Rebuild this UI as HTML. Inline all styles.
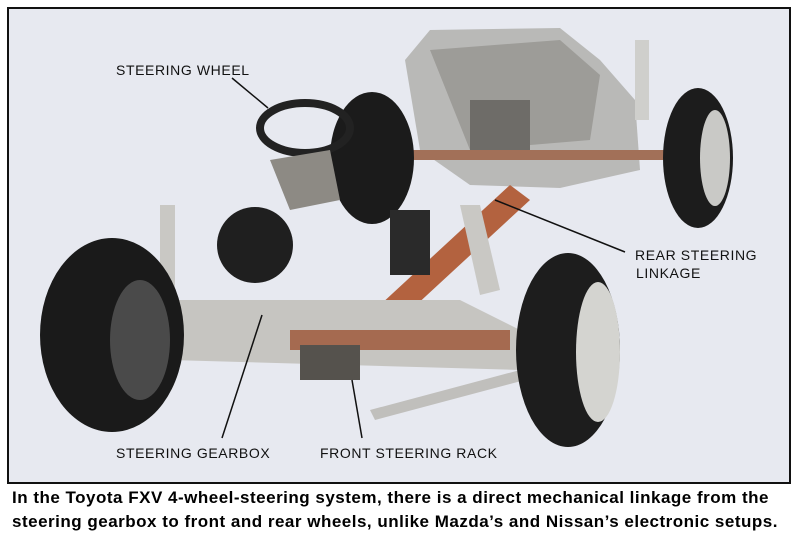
<!DOCTYPE html>
<html><head><style>
html,body{margin:0;padding:0;background:#fff;width:800px;height:543px;overflow:hidden}
.cap{position:absolute;left:12px;font-family:"Liberation Sans",sans-serif;font-weight:bold;font-size:17px;letter-spacing:0.5px;color:#000;white-space:nowrap}
.lbl{font-family:"Liberation Sans",sans-serif;font-size:14px;letter-spacing:0.6px;fill:#111}
</style></head><body>
<svg width="800" height="543" style="position:absolute;left:0;top:0">
<rect x="8" y="8" width="782" height="475" fill="#e7e9f0" stroke="#111" stroke-width="2"/>
<path d="M405 60 L430 30 L560 28 L600 60 L635 100 L640 170 L560 188 L470 185 L420 150 Z" fill="#b9b9b7"/>
<path d="M430 50 L560 40 L600 75 L590 140 L470 150 Z" fill="#9d9c98"/>
<rect x="470" y="100" width="60" height="60" fill="#6e6c68"/>
<rect x="380" y="150" width="300" height="10" fill="#a27058"/>
<rect x="635" y="40" width="14" height="80" fill="#cfcfcc"/>
<ellipse cx="372" cy="158" rx="42" ry="66" fill="#1b1b1b"/>
<ellipse cx="698" cy="158" rx="35" ry="70" fill="#1c1c1c"/>
<ellipse cx="715" cy="158" rx="15" ry="48" fill="#c9c9c6"/>
<ellipse cx="305" cy="128" rx="45" ry="25" fill="none" stroke="#222" stroke-width="8"/>
<path d="M270 160 L330 150 L340 200 L290 210 Z" fill="#8d8a84"/>
<path d="M380 305 L510 185 L530 200 L400 320 Z" fill="#b3623f"/>
<ellipse cx="255" cy="245" rx="38" ry="38" fill="#1f1f1f"/>
<rect x="390" y="210" width="40" height="65" fill="#2a2a2a"/>
<path d="M170 300 L460 300 L520 330 L520 370 L170 360 Z" fill="#c6c5c1"/>
<rect x="290" y="330" width="220" height="20" fill="#a56a50"/>
<rect x="300" y="345" width="60" height="35" fill="#55524d"/>
<path d="M370 410 L520 370 L525 380 L375 420 Z" fill="#c0bfbc"/>
<path d="M160 205 L175 205 L175 300 L160 300 Z" fill="#c9c8c4"/>
<path d="M460 205 L480 205 L500 290 L480 295 Z" fill="#c9c8c4"/>
<ellipse cx="112" cy="335" rx="72" ry="97" fill="#1a1a1a"/>
<ellipse cx="140" cy="340" rx="30" ry="60" fill="#4a4a4a"/>
<ellipse cx="568" cy="350" rx="52" ry="97" fill="#1d1d1d"/>
<ellipse cx="598" cy="352" rx="22" ry="70" fill="#d4d4d0"/>
<g stroke="#111" stroke-width="1.5" fill="none">
<line x1="232" y1="78" x2="268" y2="108"/>
<line x1="495" y1="200" x2="625" y2="252"/>
<line x1="262" y1="315" x2="222" y2="438"/>
<line x1="352" y1="380" x2="362" y2="438"/>
</g>
<text class="lbl" x="116" y="75">STEERING WHEEL</text>
<text class="lbl" x="635" y="260">REAR STEERING</text>
<text class="lbl" x="636" y="278">LINKAGE</text>
<text class="lbl" x="116" y="458">STEERING GEARBOX</text>
<text class="lbl" x="320" y="458">FRONT STEERING RACK</text>
</svg>
<div class="cap" style="top:488px">In the Toyota FXV 4-wheel-steering system, there is a direct mechanical linkage from the</div>
<div class="cap" style="top:512px">steering gearbox to front and rear wheels, unlike Mazda’s and Nissan’s electronic setups.</div>
</body></html>
